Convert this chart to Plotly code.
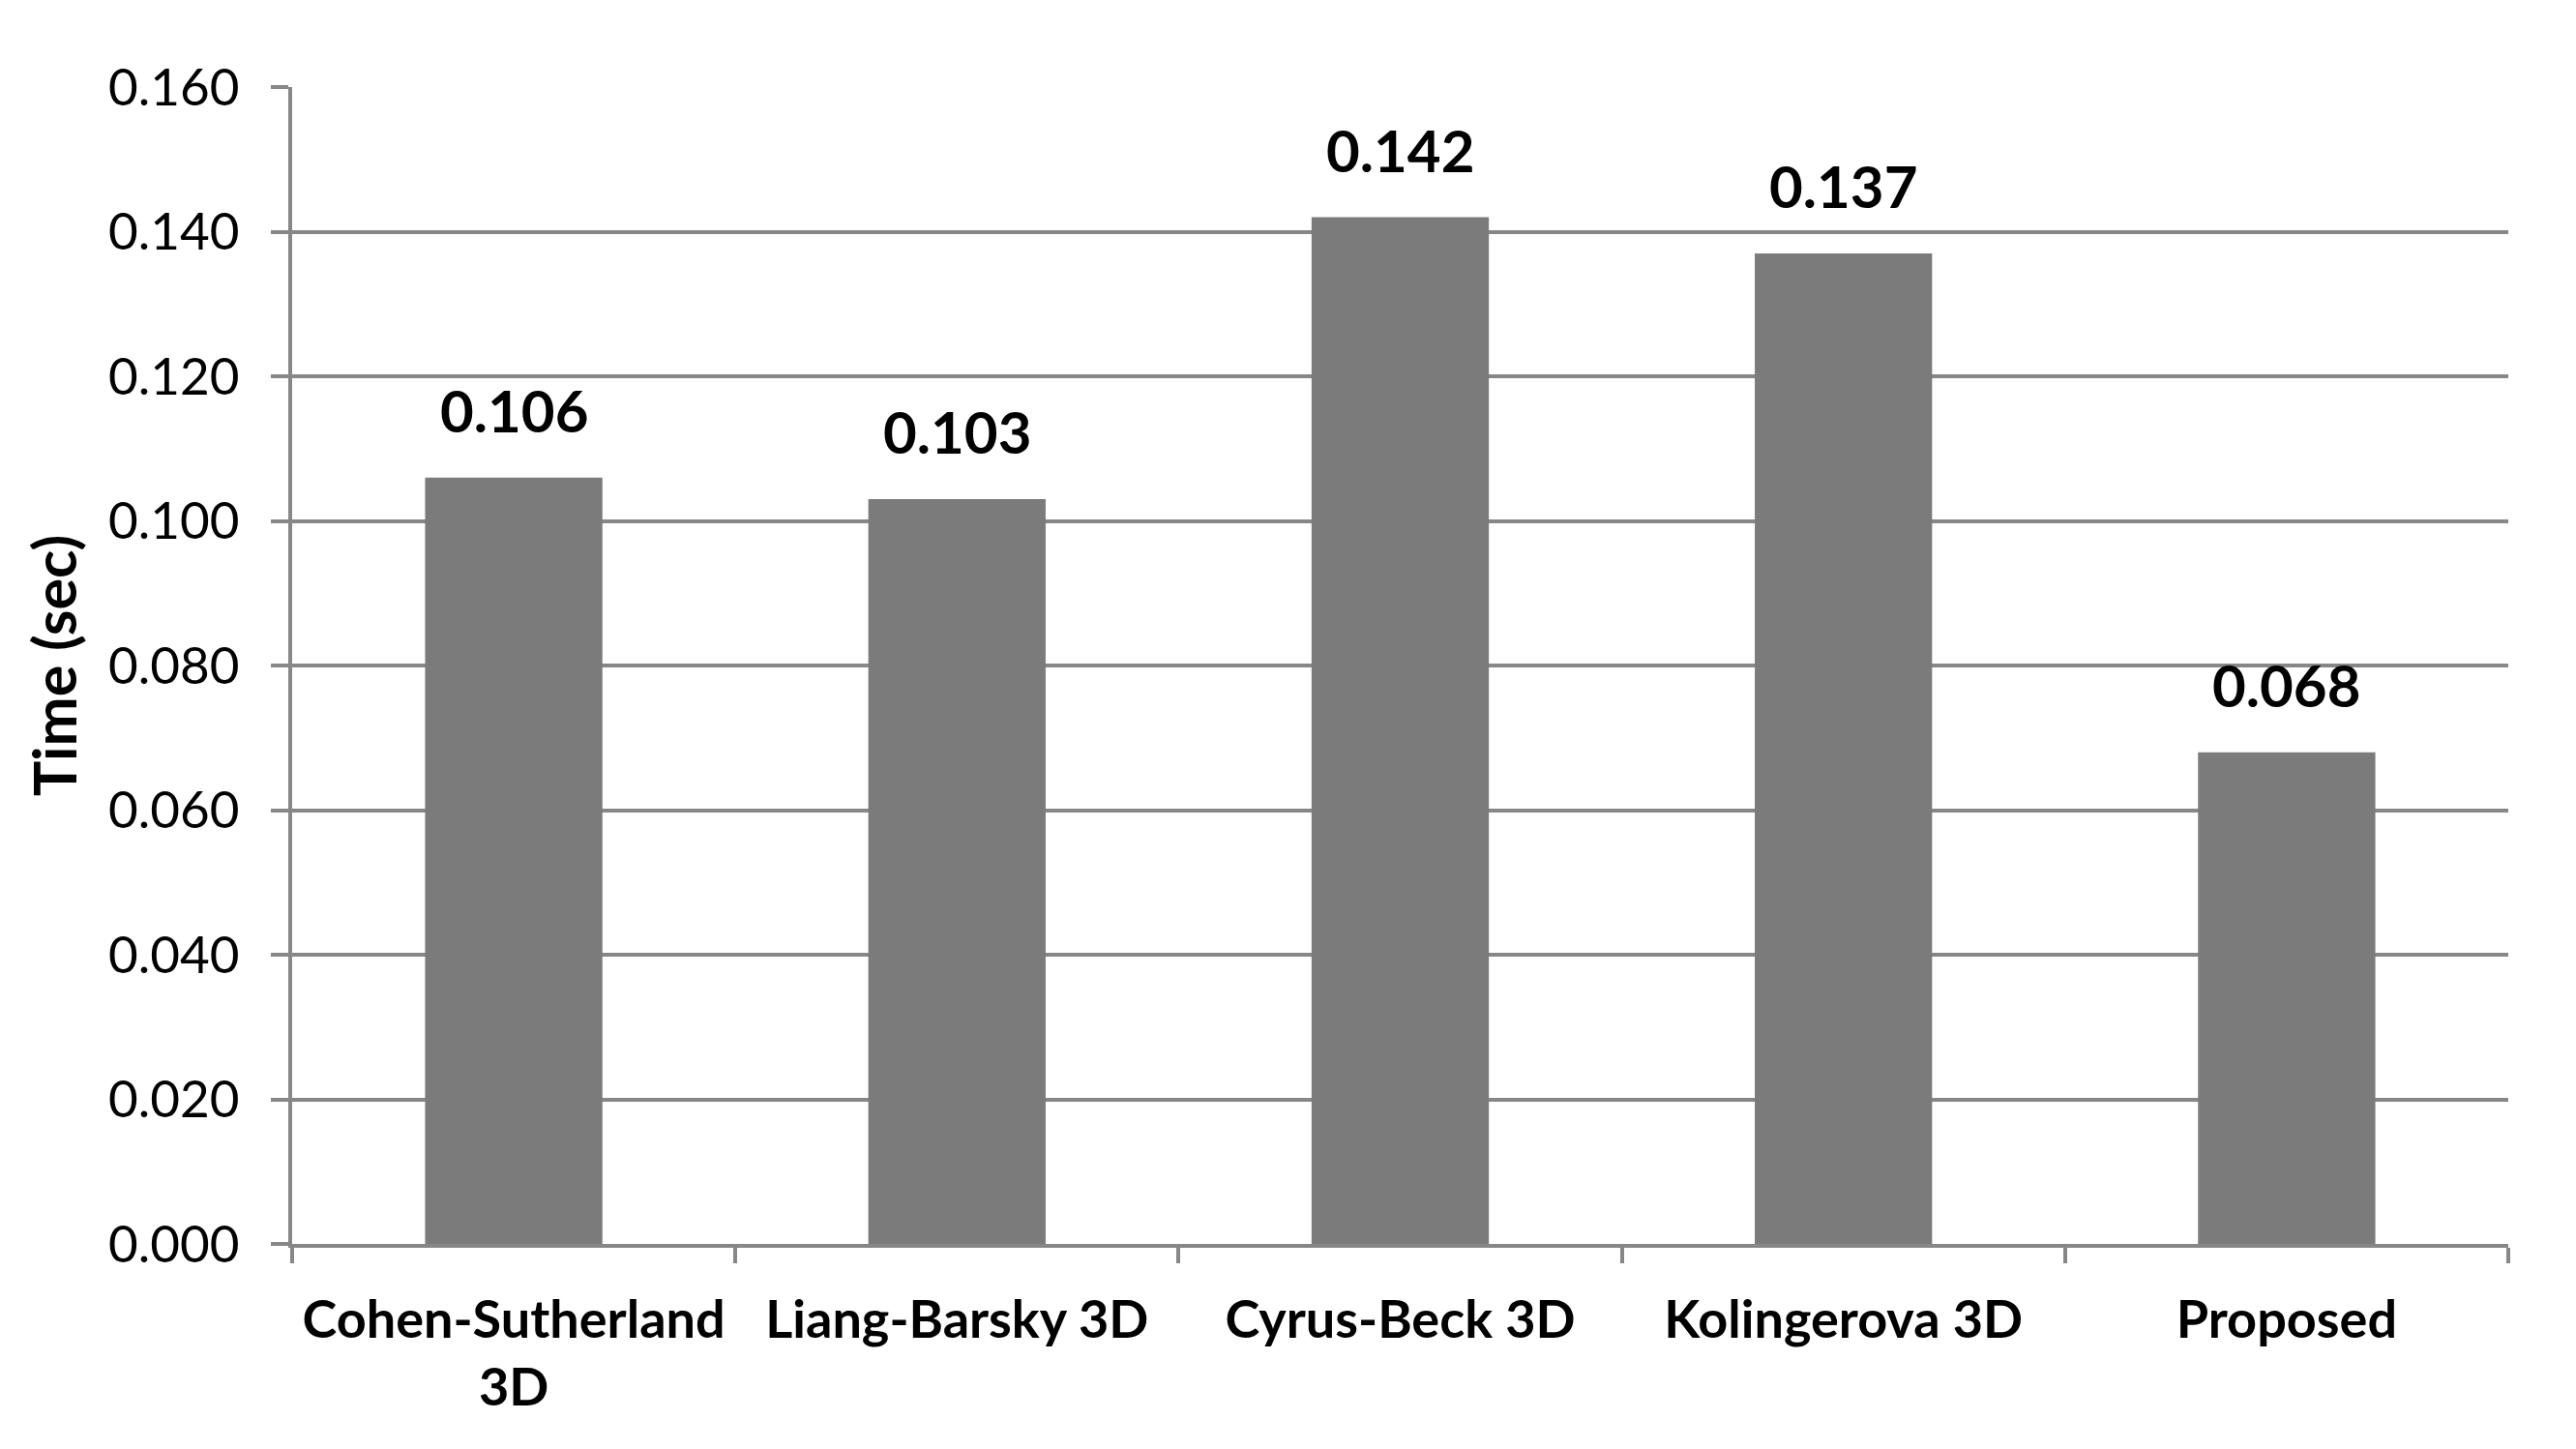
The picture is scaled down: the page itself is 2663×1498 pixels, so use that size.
import plotly.graph_objects as go

categories = ["Cohen-Sutherland<br>3D", "Liang-Barsky 3D", "Cyrus-Beck 3D", "Kolingerova 3D", "Proposed"]
times = [0.106, 0.103, 0.142, 0.137, 0.068]
y_ticks = [0.0, 0.02, 0.04, 0.06, 0.08, 0.10, 0.12, 0.14, 0.16]

FONT = "Lato"
GRID = "#878787"
BAR = "#7b7b7b"

fig = go.Figure()
fig.add_trace(go.Bar(x=categories, y=times, marker_color=BAR, marker_line_width=0,
                     showlegend=False, hoverinfo="skip"))

for c, v in zip(categories, times):
    fig.add_annotation(x=c, y=v, text=f"<b>{v:.3f}</b>", showarrow=False,
                       yanchor="bottom", yshift=32,
                       font=dict(family=FONT, size=60, color="black"))

fig.update_layout(
    width=2663, height=1498,
    margin=dict(l=294, r=78, t=82, b=220),
    paper_bgcolor="white", plot_bgcolor="white",
    bargap=0.6,
    font=dict(family=FONT, color="black"),
)
fig.update_xaxes(
    range=[-0.5, 4.5], showgrid=False,
    showline=True, linecolor=GRID, linewidth=4,
    ticks="outside", tickson="boundaries", ticklen=16, tickwidth=4, tickcolor=GRID,
    tickfont=dict(family=FONT, size=54, color="black"),
    tickprefix="<b>", ticksuffix="</b>",
    ticklabelstandoff=28,
)
fig.update_yaxes(
    range=[0, 0.16], tickvals=y_ticks, tickformat=".3f",
    showgrid=True, gridcolor=GRID, gridwidth=4,
    showline=True, linecolor=GRID, linewidth=4,
    ticks="outside", ticklen=18, tickwidth=4, tickcolor=GRID,
    tickfont=dict(family=FONT, size=53, color="black"),
    ticklabelstandoff=22,
    zeroline=False,
    title=dict(text="<b>Time (sec)</b>", font=dict(family=FONT, size=61, color="black"), standoff=14),
)

fig.write_html("out.html")
